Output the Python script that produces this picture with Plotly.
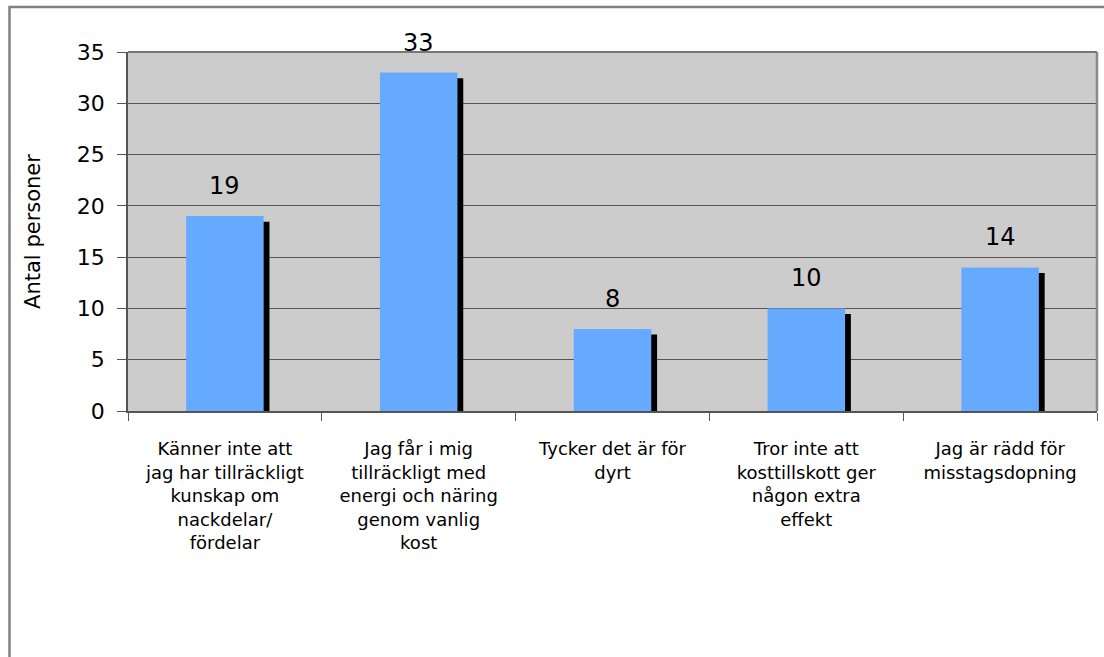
import plotly.graph_objects as go

categories = [
    "Känner inte att<br>jag har tillräckligt<br>kunskap om<br>nackdelar/<br>fördelar",
    "Jag får i mig<br>tillräckligt med<br>energi och näring<br>genom vanlig<br>kost",
    "Tycker det är för<br>dyrt",
    "Tror inte att<br>kosttillskott ger<br>någon extra<br>effekt",
    "Jag är rädd för<br>misstagsdopning",
]
values = [19, 33, 8, 10, 14]
y_ticks = [0, 5, 10, 15, 20, 25, 30, 35]

W, H = 1104, 657
L, R, T, B = 128, 7, 52, 246
pw, ph = W - L - R, H - T - B

fig = go.Figure()
# shadow bars
fig.add_trace(go.Bar(
    x=categories, y=[v - 0.55 for v in values],
    width=0.4, offset=-0.17,
    marker=dict(color="black", line=dict(width=0)),
    hoverinfo="skip", showlegend=False,
))
fig.add_trace(go.Bar(
    x=categories, y=values,
    width=0.4, offset=-0.2,
    marker=dict(color="#66AAFF", line=dict(width=0)),
    showlegend=False,
))

for c, v in zip(categories, values):
    fig.add_annotation(x=c, y=v, text=str(v), showarrow=False,
                       yanchor="bottom", yshift=14,
                       font=dict(size=24, color="black", family="DejaVu Sans"))

# outer border
fig.add_shape(type="rect", xref="paper", yref="paper",
              x0=(9.5 - L) / pw, x1=1.02,
              y0=-(H + 10 - (T + ph)) / ph, y1=1 + (T - 7) / ph,
              line=dict(color="#808080", width=2.5), layer="below")

fig.update_layout(
    width=W, height=H,
    margin=dict(l=L, r=R, t=T, b=B),
    paper_bgcolor="white",
    plot_bgcolor="#CCCCCC",
    barmode="overlay",
    font=dict(family="DejaVu Sans", color="black"),
    xaxis=dict(
        tickson="boundaries", ticks="outside", ticklen=8, tickcolor="#555555",
        showline=True, linecolor="#555555", linewidth=1.5,
        showgrid=False, mirror=False,
        tickfont=dict(size=18, family="DejaVu Sans"),
        ticklabelstandoff=21,
    ),
    yaxis=dict(
        range=[0, 35], tickvals=y_ticks,
        ticks="outside", ticklen=9, tickcolor="#555555",
        showline=True, linecolor="#555555", linewidth=1.5,
        gridcolor="#555555", gridwidth=1.3,
        tickfont=dict(size=22),
        ticklabelstandoff=8,
        title=dict(text="Antal personer", font=dict(size=21), standoff=30),
        zeroline=False,
    ),
)
# plot area right/top border
fig.add_shape(type="line", xref="paper", yref="paper", x0=1, x1=1, y0=0, y1=1,
              line=dict(color="#888888", width=2.5))
fig.add_shape(type="line", xref="paper", yref="paper", x0=0, x1=1, y0=1, y1=1,
              line=dict(color="#777777", width=2))

fig.write_html("out.html")
